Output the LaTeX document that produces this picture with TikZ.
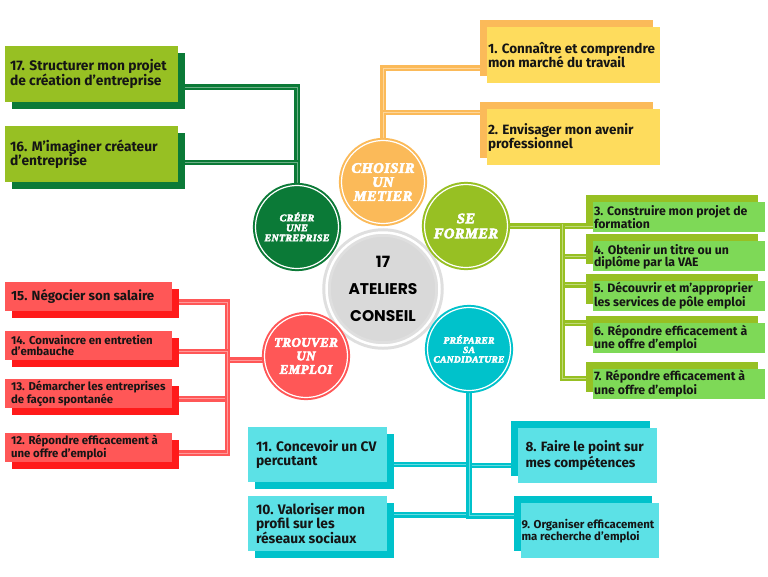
\documentclass[tikz,border=0pt]{standalone}
\usepackage{fontspec}
\setmainfont{Fira Sans}
\newfontfamily\circfont{Liberation Serif}[LetterSpace=3, BoldItalicFeatures={FakeBold=4}]
\newfontfamily\popfont{Poppins}
\usepackage{tikz}
\usetikzlibrary{positioning,calc,shadows,backgrounds}

\definecolor{darkgreen}{HTML}{0B7A37}
\definecolor{leafgreen}{HTML}{97C023}
\definecolor{peach}{HTML}{FBBA59}
\definecolor{lemon}{HTML}{FEDC5D}
\definecolor{mint}{HTML}{7ED957}
\definecolor{coral}{HTML}{FF5757}
\definecolor{scarlet}{HTML}{FF1A1A}
\definecolor{turq}{HTML}{00C2CB}
\definecolor{aqua}{HTML}{5CE1E6}
\definecolor{ink}{HTML}{151515}
\definecolor{pale}{HTML}{D9D9D9}

\begin{document}
\begin{tikzpicture}[
    x=1pt, y=-1pt,
    shade se/.style={drop shadow={shadow xshift=7pt, shadow yshift=-7pt, fill=#1, opacity=1}},
    shade nw/.style={drop shadow={shadow xshift=-7pt, shadow yshift=7pt, fill=#1, opacity=1}},
    card/.style={rectangle, inner ysep=0pt, align=flush left, text=ink},
    gbox/.style={card, fill=leafgreen, text width=163pt, inner xsep=5pt, minimum height=56pt, font=\bfseries\fontsize{13.8}{14.5}\selectfont, shade se=darkgreen},
    obox/.style={card, fill=lemon, text width=171pt, inner xsep=1pt, minimum height=56pt, font=\bfseries\fontsize{13.5}{14.5}\selectfont, shade nw=peach},
    fbox/.style={card, fill=mint, text width=170pt, inner xsep=1pt, minimum height=30pt, font=\bfseries\fontsize{12.3}{12}\selectfont, shade nw=leafgreen},
    rbox/.style={card, fill=coral, text width=155pt, inner xsep=6pt, minimum height=29pt, font=\bfseries\fontsize{11.4}{11.5}\selectfont, shade se=scarlet},
    cbox/.style={card, fill=aqua, text width=123pt, inner xsep=8pt, minimum height=55pt, font=\bfseries\fontsize{13.8}{14}\selectfont},
    hub/.style={circle, fill=#1, draw=#1, double=white, double distance=1.2pt, line width=2pt, minimum size=83pt, inner sep=0pt, text=white, align=center},
    hubtext/.style={font=\circfont\bfseries\itshape\fontsize{#1}{#1}\selectfont},
    link/.style={line width=2.4pt, draw=#1, double=white!40!#1, double distance=0.9pt}
]
    % circles
    \node[hub=pale, draw=pale!85!white, double distance=2.5pt, line width=3pt, minimum size=113pt, text=black,
          font=\popfont\bfseries\fontsize{15.5}{27}\selectfont] (core) at (383,289) {17\\ATELIERS\\CONSEIL};
    \node[hub=peach, hubtext=14.5] (choisir) at (383,182) {CHOISIR\\[-0.5pt]UN\\[-0.5pt]METIER};
    \node[hub=leafgreen, hubtext=14.5] (former) at (466,226) {SE\\[0.5pt]FORMER};
    \node[hub=darkgreen, hubtext=10] (creer) at (297,227) {CRÉER\\UNE\\ENTREPRISE};
    \node[hub=coral, hubtext=13] (trouver) at (306,356) {TROUVER\\[0.5pt]UN\\[0.5pt]EMPLOI};
    \node[hub=turq, hubtext=9.5] (preparer) at (469,349) {PRÉPARER\\SA\\CANDIDATURE};

    % creer une entreprise
    \node[gbox] (b17) at (91.5,74) {17. Structurer mon projet\\de création d'entreprise};
    \node[gbox, below=24pt of b17] (b16) {16. M'imaginer créateur\\d'entreprise};

    % choisir un metier
    \node[obox] (b1) at (573.5,55) {1. Connaître et comprendre\\mon marché du travail};
    \node[obox, below=26pt of b1] (b2) {2. Envisager mon avenir\\professionnel};

    % se former
    \node[fbox] (b3) at (679,217) {3. Construire mon projet de\\formation};
    \node[fbox, below=9pt of b3] (b4) {4. Obtenir un titre ou un\\diplôme par la VAE};
    \node[fbox, below=9pt of b4] (b5) {5. Découvrir et m'approprier\\les services de pôle emploi};
    \node[fbox, below=12pt of b5] (b6) {6. Répondre efficacement à\\une offre d'emploi};
    \node[fbox, below=15pt of b6] (b7) {7. Répondre efficacement à\\une offre d'emploi};

    % trouver un emploi
    \node[rbox, font=\bfseries\fontsize{13.3}{13}\selectfont] (b15) at (88.5,296) {15. Négocier son salaire};
    \node[rbox, below=20pt of b15] (b14) {14. Convaincre en entretien\\d'embauche};
    \node[rbox, below=19pt of b14] (b13) {13. Démarcher les entreprises\\de façon spontanée};
    \node[rbox, below=24pt of b13] (b12) {12. Répondre efficacement à\\une offre d'emploi};

    % preparer sa candidature
    \node[cbox, shade se=turq] (b11) at (317.5,454.5) {11. Concevoir un CV\\percutant};
    \node[cbox, shade se=turq, below=14pt of b11, font=\bfseries\fontsize{13.8}{13.5}\selectfont] (b10) {10. Valoriser mon\\profil sur les\\réseaux sociaux};
    \node[cbox, shade nw=turq, font=\bfseries\fontsize{13.5}{14}\selectfont] (b8) at (587,455.5) {8. Faire le point sur\\mes compétences};
    \node[cbox, shade nw=turq, below=20pt of b8, xshift=2.5pt, text width=136pt, inner xsep=1pt,
          font=\bfseries\fontsize{11.4}{12}\selectfont] (b9) {9. Organiser efficacement\\ma recherche d'emploi\\[5pt]};

    \begin{scope}[on background layer]
        \fill[white] (0,0) rectangle (768,576);
        \draw[link=darkgreen] (creer.north) |- ([yshift=-13pt]b17.east);
        \draw[link=darkgreen] (creer.north) |- ([yshift=-8pt]b16.east);

        \draw[link=peach] (choisir.north) |- ([yshift=-13pt]b1.west);
        \draw[link=peach] (choisir.north) |- ([yshift=25pt]b2.west);

        \coordinate (fj) at ($(former.east)+(54,-2)$);
        \draw[link=leafgreen] (former.east) -- (former.east -| b3.west);
        \draw[link=leafgreen] (fj) |- ([yshift=0pt]b4.west);
        \draw[link=leafgreen] (fj) |- ([yshift=11pt]b5.west);
        \draw[link=leafgreen] (fj) |- ([yshift=15pt]b6.west);
        \draw[link=leafgreen] (fj) |- ([yshift=5pt]b7.west);

        \coordinate (rj) at ($(trouver.west)+(-36,4)$);
        \draw[link=coral] ([yshift=-4pt]trouver.west) -- (rj);
        \draw[link=coral] (rj) |- ([yshift=-6pt]b15.east);
        \draw[link=coral] (rj) |- ([yshift=-6pt]b14.east);
        \draw[link=coral] (rj) |- ([yshift=-5pt]b13.east);
        \draw[link=coral] (rj) |- ([yshift=-6pt]b12.east);

        \draw[link=turq] (preparer.south) |- ([yshift=-10pt]b11.east);
        \draw[link=turq] (preparer.south) |- ([yshift=-10pt]b8.west);
        \draw[link=turq] (preparer.south) |- ([yshift=9pt]b10.east);
        \draw[link=turq] (preparer.south) |- ([yshift=15pt]b9.west);
    \end{scope}
    \useasboundingbox (0,0) rectangle (768,576);
\end{tikzpicture}
\end{document}
